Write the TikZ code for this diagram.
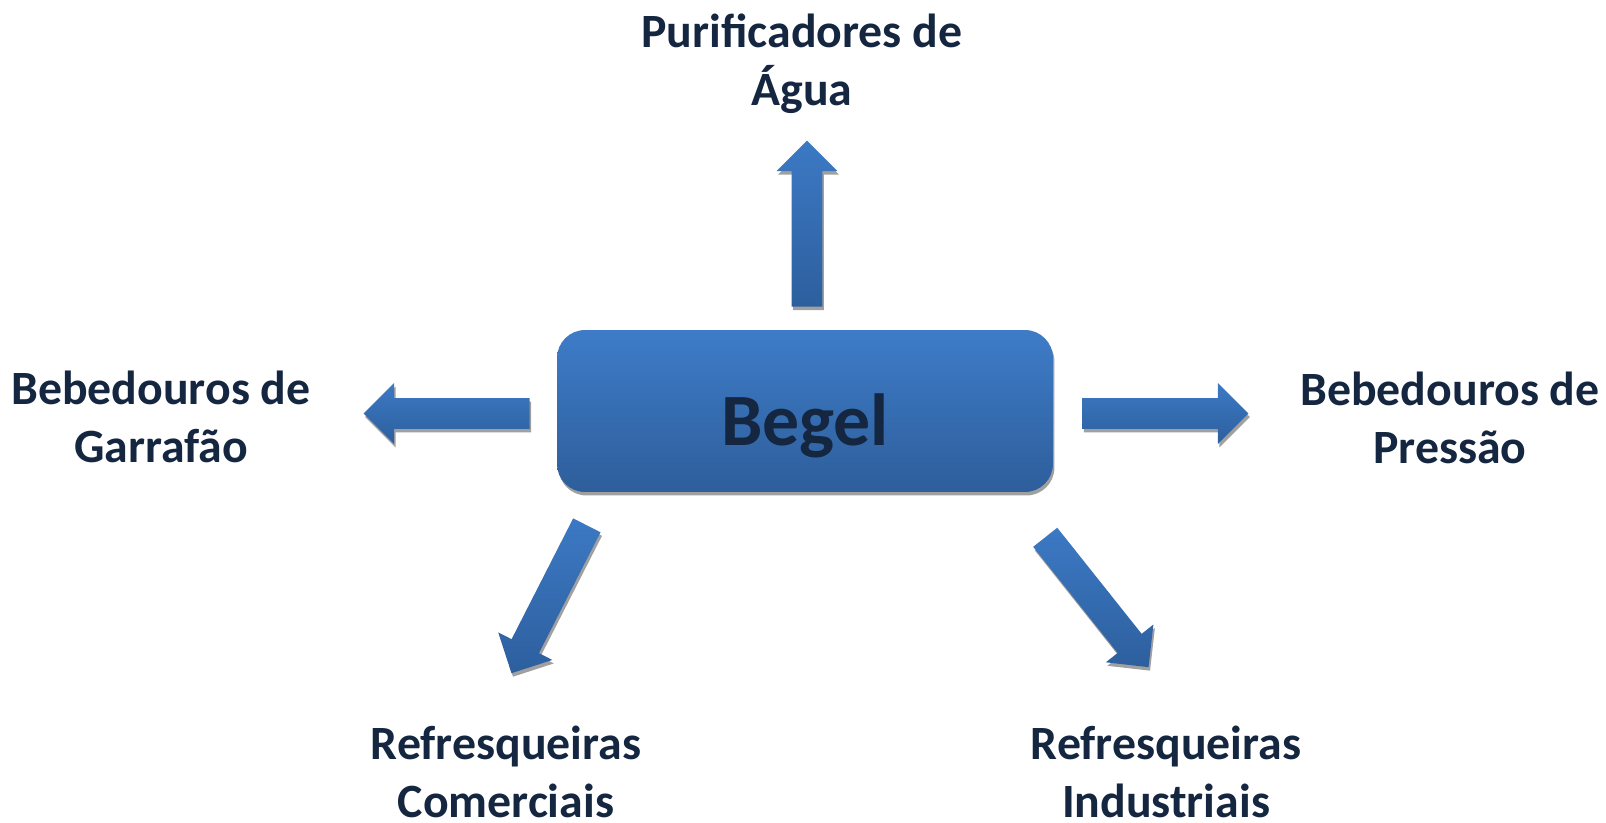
\documentclass[tikz,border=0pt]{standalone}
\usepackage{fontspec}
\setmainfont{Carlito}
\definecolor{boxtop}{RGB}{62,124,200}
\definecolor{boxbottom}{RGB}{46,94,155}
\definecolor{arrowlight}{RGB}{60,121,196}
\definecolor{arrowdark}{RGB}{45,95,158}
\definecolor{labelnavy}{RGB}{20,38,64}
\definecolor{shadowgray}{RGB}{160,160,160}
\usetikzlibrary{shapes.arrows,shadows}

\begin{document}
\begin{tikzpicture}[x=0.02cm,y=-0.02cm,
    every node/.style={text=labelnavy},
    greyshadow/.style={drop shadow={shadow xshift=0.03cm,shadow yshift=-0.07cm,fill=shadowgray,opacity=1}},
    centerbox/.style={rounded corners=0.56cm,minimum width=9.92cm,minimum height=3.24cm,
      top color=boxtop,bottom color=boxbottom,greyshadow,
      font=\bfseries\fontsize{42}{50}\selectfont,text height=1.42cm,text depth=0.06cm},
    blockarrow/.style={single arrow,single arrow head extend=0.3cm,inner xsep=0pt,inner ysep=0.3cm,
      minimum height=3.32cm,top color=arrowlight,bottom color=arrowdark,greyshadow,anchor=tail},
    product/.style={align=center,inner sep=0.5pt,font=\bfseries\fontsize{27.2}{33}\selectfont}
    ]
    \useasboundingbox (0,0) rectangle (1606,822);

    % the company
    \node[centerbox] (begel) at (805,411) {Begel};

    % the arrows, placed by their tails
    \node[blockarrow,rotate=90] (arrowup) at (807,307) {};
    \node[blockarrow,rotate=180] (arrowleft) at (530,413.5) {};
    \node[blockarrow] (arrowright) at (1082,413.5) {};
    \node[blockarrow,rotate=243] (arrowcom) at (587,525) {};
    \node[blockarrow,rotate=-51.5] (arrowind) at (1045,537) {};

    % the product lines
    \node[product] (purificadores) at (802,64) {Purificadores de\\Água};
    \node[product] (garrafao) at (161,417) {Bebedouros de\\Garrafão};
    \node[product] (pressao) at (1450,418) {Bebedouros de\\Pressão};
    \node[product] (comerciais) at (506,772) {Refresqueiras\\Comerciais};
    \node[product] (industriais) at (1166,772) {Refresqueiras\\Industriais};
\end{tikzpicture}
\end{document}
